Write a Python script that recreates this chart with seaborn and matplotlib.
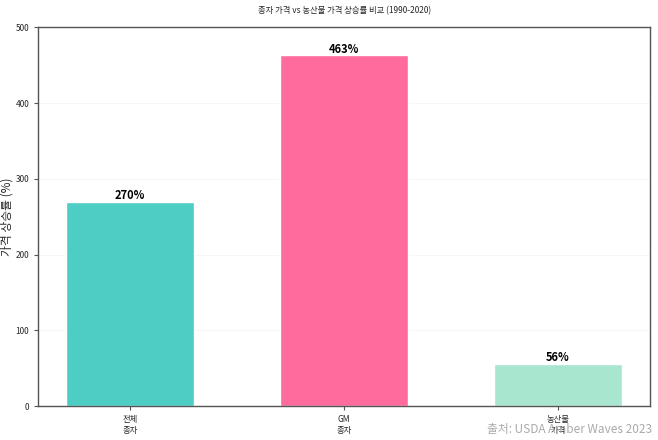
import matplotlib
matplotlib.use('Agg')
import matplotlib.pyplot as plt
import seaborn as sns
import pandas as pd

# 데이터
categories = ['전체\n종자', 'GM\n종자', '농산물\n가격']
increase = [270, 463, 56]
colors = ['#4ECDC4', '#FF6B9D', '#A8E6CF']

sns.set_style('white')
plt.rcParams['font.family'] = ['Noto Sans CJK KR', 'DejaVu Sans']

df = pd.DataFrame({'cat': categories, 'val': increase})

fig, ax = plt.subplots(figsize=(6.58, 4.4), dpi=100)
sns.barplot(data=df, x='cat', y='val', hue='cat', palette=colors,
            width=0.6, legend=False, ax=ax, saturation=1)

# 막대 위 값 표시
for i, v in enumerate(increase):
    ax.text(i, v - 1, f'{v}%', ha='center', va='bottom', fontsize=8,
            fontweight='bold', color='black')

ax.set_ylim(0, 500)
ax.set_yticks([0, 100, 200, 300, 400, 500])
ax.set_xlim(-0.43, 2.43)
ax.grid(axis='y', color='#eeeeee', linewidth=0.6, alpha=0.5)
ax.set_axisbelow(True)
ax.set_xlabel('')
ax.set_ylabel('가격 상승률 (%)', fontsize=8.5)
ax.yaxis.set_label_coords(-0.04, 0.5)
ax.set_title('종자 가격 vs 농산물 가격 상승률 비교 (1990-2020)', fontsize=6, pad=10)
ax.tick_params(axis='both', labelsize=6, length=3, color='#555555', width=0.8)
ax.tick_params(axis='both', bottom=True, left=True)
for s in ax.spines.values():
    s.set_color('#555555')
    s.set_linewidth(1.0)

fig.text(0.991, 0.008, '출처: USDA Amber Waves 2023', ha='right', va='bottom',
         fontsize=8.5, color='#aaaaaa')

plt.subplots_adjust(left=0.058, right=0.988, top=0.938, bottom=0.077)
plt.savefig('out.png', dpi=100)
